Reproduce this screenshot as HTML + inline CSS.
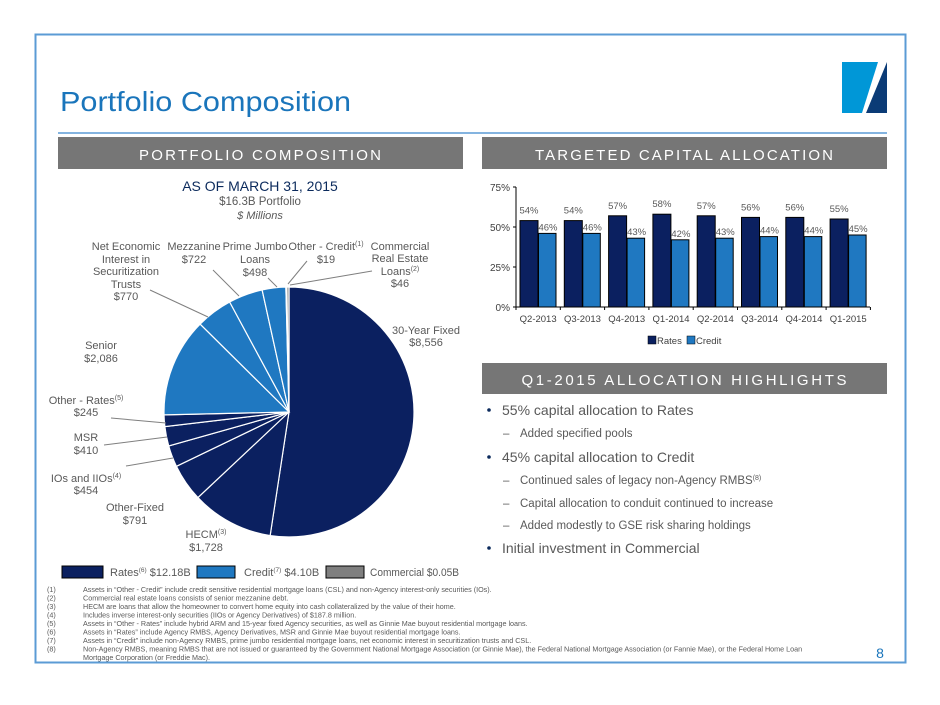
<!DOCTYPE html>
<html><head><meta charset="utf-8"><style>
html,body{margin:0;padding:0;background:#fff}
svg{display:block;font-family:"Liberation Sans",sans-serif}
</style></head><body>
<svg id="s" width="940" height="705" viewBox="0 0 940 705" xmlns="http://www.w3.org/2000/svg">
<rect x="35.5" y="34.5" width="870" height="628" fill="none" stroke="#5b9bd5" stroke-width="2"/>
<text x="60" y="111" font-size="28" fill="#1a75bb" textLength="291" lengthAdjust="spacingAndGlyphs">Portfolio Composition</text>
<polygon points="842,62 878,62 862,113 842,113" fill="#0097d7"/>
<polygon points="887,62 887,113 866,113" fill="#0b3b76"/>
<line x1="58" y1="133" x2="887" y2="133" stroke="#5b9bd5" stroke-width="1.5"/>
<rect x="58" y="137" width="405" height="32" fill="#767676"/>
<rect x="482" y="137" width="405" height="32" fill="#767676"/>
<text x="260" y="160" font-size="15" fill="#fff" text-anchor="middle" textLength="242" lengthAdjust="spacing">PORTFOLIO COMPOSITION</text>
<text x="684" y="160" font-size="15" fill="#fff" text-anchor="middle" textLength="298" lengthAdjust="spacing">TARGETED CAPITAL ALLOCATION</text>
<rect x="482" y="363" width="405" height="31" fill="#767676"/>
<text x="684" y="385" font-size="15" fill="#fff" text-anchor="middle" textLength="325" lengthAdjust="spacing">Q1-2015 ALLOCATION HIGHLIGHTS</text>

<text x="260" y="191" font-size="14" fill="#0b2a5c" text-anchor="middle">AS OF MARCH 31, 2015</text>
<text x="260" y="205" font-size="11.5" fill="#595959" text-anchor="middle">$16.3B Portfolio</text>
<text x="260" y="219" font-size="11" fill="#595959" text-anchor="middle" font-style="italic">$ Millions</text>

<g id="pie"></g>
<g stroke="#7f7f7f" stroke-width="1" fill="none">
<line x1="150" y1="290" x2="208" y2="317"/><line x1="213" y1="270" x2="239" y2="296"/>
<line x1="268" y1="278" x2="277" y2="287"/><line x1="307" y1="261" x2="288" y2="284"/>
<line x1="372" y1="271" x2="290" y2="285"/><line x1="111" y1="418" x2="166" y2="423"/>
<line x1="104" y1="445" x2="167" y2="437"/><line x1="126" y1="466" x2="173" y2="458"/>
</g>
<g font-size="11" fill="#595959" text-anchor="middle">
<text x="126" y="250">Net Economic</text><text x="126" y="263">Interest in</text><text x="126" y="275">Securitization</text><text x="126" y="288">Trusts</text><text x="126" y="300">$770</text>
<text x="194" y="250">Mezzanine</text><text x="194" y="263">$722</text>
<text x="255" y="250">Prime Jumbo</text><text x="255" y="263">Loans</text><text x="255" y="276">$498</text>
<text x="326" y="250">Other - Credit<tspan font-size="7" dy="-4">(1)</tspan></text><text x="326" y="263">$19</text>
<text x="400" y="250">Commercial</text><text x="400" y="262">Real Estate</text><text x="400" y="275">Loans<tspan font-size="7" dy="-4">(2)</tspan></text><text x="400" y="287">$46</text>
<text x="426" y="334">30-Year Fixed</text><text x="426" y="346">$8,556</text>
<text x="101" y="349">Senior</text><text x="101" y="362">$2,086</text>
<text x="86" y="404">Other - Rates<tspan font-size="7" dy="-4">(5)</tspan></text><text x="86" y="416">$245</text>
<text x="86" y="441">MSR</text><text x="86" y="454">$410</text>
<text x="86" y="482">IOs and IIOs<tspan font-size="7" dy="-4">(4)</tspan></text><text x="86" y="494">$454</text>
<text x="135" y="511">Other-Fixed</text><text x="135" y="524">$791</text>
<text x="206" y="538">HECM<tspan font-size="7" dy="-4">(3)</tspan></text><text x="206" y="551">$1,728</text>
</g>

<rect x="62" y="566" width="41" height="12" fill="#0b2060" stroke="#000" stroke-width="1"/>
<rect x="197" y="566" width="38" height="12" fill="#1f78c1" stroke="#000" stroke-width="1"/>
<rect x="326" y="566" width="38" height="12" fill="#7f7f7f" stroke="#000" stroke-width="1"/>
<g font-size="11" fill="#595959">
<text x="110" y="576">Rates<tspan font-size="6.5" dy="-4">(6)</tspan><tspan dy="4"> $12.18B</tspan></text>
<text x="244" y="576">Credit<tspan font-size="6.5" dy="-4">(7)</tspan><tspan dy="4"> $4.10B</tspan></text>
<text x="370" y="576" textLength="89" lengthAdjust="spacingAndGlyphs">Commercial $0.05B</text>
</g>
<g font-size="7.2" fill="#595959">
<text x="47" y="592">(1)</text><text x="83" y="592">Assets in “Other - Credit” include credit sensitive residential mortgage loans (CSL) and non-Agency interest-only securities (IOs).</text>
<text x="47" y="600.5">(2)</text><text x="83" y="600.5">Commercial real estate loans consists of senior mezzanine debt.</text>
<text x="47" y="609">(3)</text><text x="83" y="609">HECM are loans that allow the homeowner to convert home equity into cash collateralized by the value of their home.</text>
<text x="47" y="617.5">(4)</text><text x="83" y="617.5">Includes inverse interest-only securities (IIOs or Agency Derivatives) of $187.8 million.</text>
<text x="47" y="626">(5)</text><text x="83" y="626">Assets in “Other - Rates” include hybrid ARM and 15-year fixed Agency securities, as well as Ginnie Mae buyout residential mortgage loans.</text>
<text x="47" y="634.5">(6)</text><text x="83" y="634.5">Assets in “Rates” include Agency RMBS, Agency Derivatives, MSR and Ginnie Mae buyout residential mortgage loans.</text>
<text x="47" y="643">(7)</text><text x="83" y="643">Assets in “Credit” include non-Agency RMBS, prime jumbo residential mortgage loans, net economic interest in securitization trusts and CSL.</text>
<text x="47" y="651.5">(8)</text><text x="83" y="651.5">Non-Agency RMBS, meaning RMBS that are not issued or guaranteed by the Government National Mortgage Association (or Ginnie Mae), the Federal National Mortgage Association (or Fannie Mae), or the Federal Home Loan</text>
<text x="83" y="660">Mortgage Corporation (or Freddie Mac).</text>
</g>
<text x="880" y="658" font-size="14" fill="#1a75bb" text-anchor="middle">8</text>

<g id="bars"></g>
<g font-size="10" fill="#404040" text-anchor="end">
<text x="510" y="191">75%</text><text x="510" y="231">50%</text><text x="510" y="271">25%</text><text x="510" y="311">0%</text>
</g>
<rect x="648" y="336" width="8" height="8" fill="#0b2060" stroke="#000" stroke-width="0.5"/>
<rect x="687" y="336" width="8" height="8" fill="#1f78c1" stroke="#000" stroke-width="0.5"/>
<g font-size="9.5" fill="#404040"><text x="657" y="344">Rates</text><text x="696" y="344">Credit</text></g>

<g fill="#595959">
<circle cx="489" cy="410" r="1.8" fill="#0b2a5c"/><text x="502" y="415" font-size="14">55% capital allocation to Rates</text>
<text x="503" y="437" font-size="11.5">–</text><text x="520" y="437" font-size="11.5">Added specified pools</text>
<circle cx="489" cy="457" r="1.8" fill="#0b2a5c"/><text x="502" y="462" font-size="14">45% capital allocation to Credit</text>
<text x="503" y="484" font-size="11.5">–</text><text x="520" y="484" font-size="11.5">Continued sales of legacy non-Agency RMBS<tspan font-size="7" dy="-4">(8)</tspan></text>
<text x="503" y="507" font-size="11.5">–</text><text x="520" y="507" font-size="11.5">Capital allocation to conduit continued to increase</text>
<text x="503" y="529" font-size="11.5">–</text><text x="520" y="529" font-size="11.5">Added modestly to GSE risk sharing holdings</text>
<circle cx="489" cy="548" r="1.8" fill="#0b2a5c"/><text x="502" y="553" font-size="14">Initial investment in Commercial</text>
</g>
</svg>
<script>
(function(){
var NS="http://www.w3.org/2000/svg";
var vals=[[8556,"#0b2060"],[1728,"#0b2060"],[791,"#0b2060"],[454,"#0b2060"],[410,"#0b2060"],[245,"#0b2060"],[2086,"#1f78c1"],[770,"#1f78c1"],[722,"#1f78c1"],[498,"#1f78c1"],[19,"#1f78c1"],[46,"#7f7f7f"]];
var tot=0;vals.forEach(function(v){tot+=v[0]});
var cx=289,cy=412,r=125,a=0,g=document.getElementById("pie");
vals.forEach(function(v){
 var a2=a+v[0]/tot*2*Math.PI;
 var x1=cx+r*Math.sin(a),y1=cy-r*Math.cos(a),x2=cx+r*Math.sin(a2),y2=cy-r*Math.cos(a2);
 var p=document.createElementNS(NS,"path");
 p.setAttribute("d","M"+cx+","+cy+"L"+x1+","+y1+"A"+r+","+r+" 0 "+((a2-a)>Math.PI?1:0)+" 1 "+x2+","+y2+"Z");
 p.setAttribute("fill",v[1]);p.setAttribute("stroke","#fff");p.setAttribute("stroke-width","1.2");
 g.appendChild(p);a=a2;});
var b=document.getElementById("bars");
function el(n,at,t){var e=document.createElementNS(NS,n);for(var k in at)e.setAttribute(k,at[k]);if(t)e.textContent=t;b.appendChild(e);return e;}
var cats=["Q2-2013","Q3-2013","Q4-2013","Q1-2014","Q2-2014","Q3-2014","Q4-2014","Q1-2015"];
var R=[54,54,57,58,57,56,56,55],C=[46,46,43,42,43,44,44,45];
var x0=516,w=44.3,y0=307,s=1.6;
el("line",{x1:x0,y1:187,x2:x0,y2:y0,stroke:"#000","stroke-width":1});
el("line",{x1:x0,y1:y0,x2:870,y2:y0,stroke:"#000","stroke-width":1});
[0,25,50,75].forEach(function(p){el("line",{x1:x0-3,y1:y0-p*s,x2:x0,y2:y0-p*s,stroke:"#000"});});
for(var j=0;j<=8;j++)el("line",{x1:x0+j*w,y1:y0,x2:x0+j*w,y2:y0+3,stroke:"#000"});
cats.forEach(function(c,j){
 var bx=x0+j*w+4;
 el("rect",{x:bx,y:y0-R[j]*s,width:18,height:R[j]*s,fill:"#0b2060",stroke:"#000","stroke-width":1});
 el("rect",{x:bx+18.5,y:y0-C[j]*s,width:17.5,height:C[j]*s,fill:"#1f78c1",stroke:"#000","stroke-width":1});
 el("text",{x:bx+9,y:y0-R[j]*s-7,"font-size":9.5,fill:"#595959","text-anchor":"middle"},R[j]+"%");
 el("text",{x:bx+28,y:y0-C[j]*s-3,"font-size":9.5,fill:"#595959","text-anchor":"middle"},C[j]+"%");
 el("text",{x:x0+j*w+w/2,y:y0+15,"font-size":9.5,fill:"#404040","text-anchor":"middle"},c);
});
})();
</script>
</body></html>
